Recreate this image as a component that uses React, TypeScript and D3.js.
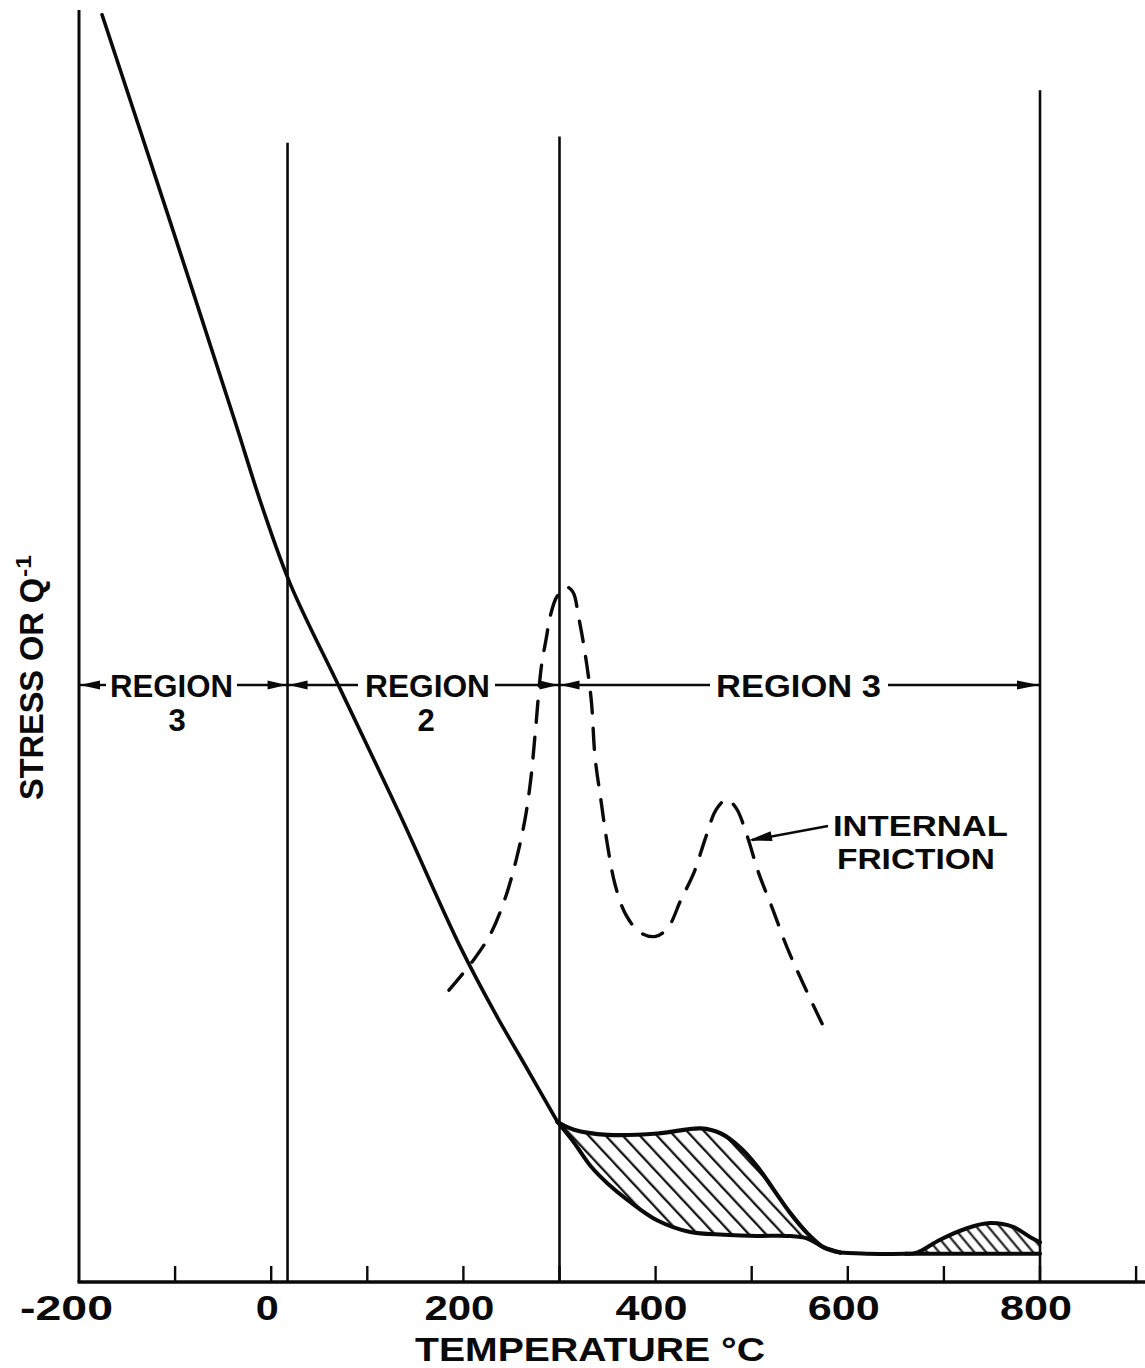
import React from 'react';
import * as d3 from 'd3';

// Temperature axis
const axisTicks = [-100, 0, 100, 200, 300, 400, 500, 600, 700, 800, 900];
const labelTemps = [-200, 0, 200, 400, 600, 800];
const labelTexts = ['-200', '0', '200', '400', '600', '800'];
const labelWidths = [93, 23, 70, 72, 72, 72];

// Region boundaries (°C) and the top of each boundary line (stress units)
const boundaryTemps = [17, 300, 800];
const boundaryTops = [89.0, 89.5, 93.1];

// Flow stress vs temperature (arbitrary stress units)
const stressT = [-176, -105, -38, -10, 20, 72, 134, 196, 233, 266, 298];
const stressV = [99.0, 82.8, 67.3, 60.7, 54.5, 46.3, 36.5, 26.3, 21.0, 16.7, 12.5];

// Above 300 °C: upper and lower branches of the stress band
const upperT = [298, 315, 350, 402, 447, 468, 488, 506, 523, 540, 558, 575, 592];
const upperV = [12.5, 11.9, 11.5, 11.6, 12.0, 11.6, 10.5, 9.0, 7.2, 5.4, 3.8, 2.7, 2.3];
const lowerT = [298, 315, 333, 350, 371, 402, 436, 471, 506, 537, 558, 575, 592];
const lowerV = [12.5, 10.9, 9.0, 7.7, 6.4, 4.8, 3.9, 3.7, 3.6, 3.6, 3.4, 2.7, 2.3];

// High-temperature plateau and the second hump
const plateauT = [592, 620, 660, 700, 750, 800];
const plateauV = [2.3, 2.2, 2.2, 2.2, 2.2, 2.2];
const humpT = [660, 672, 696, 724, 748, 772, 790, 800];
const humpV = [2.2, 2.3, 3.3, 4.2, 4.6, 4.3, 3.5, 3.1];

// Internal friction (dashed)
const frictionT = [185, 211, 229, 244, 255, 264, 270, 275, 281, 286, 291, 297, 307, 314, 320, 326, 333, 337, 343, 350, 358, 369, 384, 400, 413, 426, 440, 452, 463, 474, 484, 495, 507, 522, 537, 553, 575];
const frictionV = [22.8, 25.2, 27.3, 30.1, 33.0, 36.1, 39.2, 43.1, 48.0, 50.2, 52.2, 53.5, 54.3, 53.9, 51.9, 49.4, 45.5, 41.0, 37.7, 34.1, 31.0, 28.7, 27.3, 27.0, 27.7, 29.8, 32.0, 34.7, 36.9, 37.7, 37.0, 34.9, 32.0, 29.1, 26.1, 23.4, 19.9];

const W = 1145;
const H = 1368;
const FONT = '"Liberation Sans", Arial, sans-serif';

const x = d3.scaleLinear().domain([-200, 800]).range([79, 1040]);
const y = d3.scaleLinear().domain([0, 100]).range([1282, 2]);

const zip = (ts: number[], vs: number[]) => ts.map((t, i) => [t, vs[i]] as [number, number]);

const line = d3
  .line<[number, number]>()
  .x((d) => x(d[0]))
  .y((d) => y(d[1]))
  .curve(d3.curveCatmullRom.alpha(0.5));

const straight = d3
  .line<[number, number]>()
  .x((d) => x(d[0]))
  .y((d) => y(d[1]));

function closedBand(top: [number, number][], bottom: [number, number][], bottomSmooth: boolean) {
  const a = line(top) || '';
  const gen = bottomSmooth ? line : straight;
  const b = (gen([...bottom].reverse()) || '').replace(/^M/, 'L');
  return a + b + 'Z';
}

function arrowHead(tipX: number, tipY: number, dx: number, dy: number, len = 19, half = 4.5) {
  const n = Math.hypot(dx, dy);
  const ux = dx / n;
  const uy = dy / n;
  const bx = tipX - ux * len;
  const by = tipY - uy * len;
  const px = -uy * half;
  const py = ux * half;
  return `M${tipX},${tipY}L${bx + px},${by + py}L${bx - px},${by - py}Z`;
}

export default function App() {
  const stress = zip(stressT, stressV);
  const upper = zip(upperT, upperV);
  const lower = zip(lowerT, lowerV);
  const plateau = zip(plateauT, plateauV);
  const hump = zip(humpT, humpV);
  const friction = zip(frictionT, frictionV);
  const humpBase = zip([humpT[0], humpT[humpT.length - 1]], [plateauV[2], plateauV[plateauV.length - 1]]);

  const bandPath = closedBand(upper, lower, true);
  const humpPath = closedBand(hump, humpBase, false);

  const baseY = y(0);
  const arrowY = 685;
  const ink = '#0a0a0a';

  const textStyle = { fontFamily: FONT, fontWeight: 700, fill: ink } as const;

  return (
    <svg
      width={W}
      height={H}
      viewBox={`0 0 ${W} ${H}`}
      style={{ position: 'absolute', left: 0, top: 0, background: '#fff' }}
    >
      <defs>
        <pattern id="hatchWide" patternUnits="userSpaceOnUse" width={12.5} height={12.5} patternTransform="rotate(-43)">
          <line x1={6} y1={0} x2={6} y2={12.5} stroke={ink} strokeWidth={2.2} />
        </pattern>
        <pattern id="hatchNarrow" patternUnits="userSpaceOnUse" width={9} height={9} patternTransform="rotate(-40)">
          <line x1={4.5} y1={0} x2={4.5} y2={9} stroke={ink} strokeWidth={2} />
        </pattern>
      </defs>
      <rect width={W} height={H} fill="#fff" />

      {/* hatched bands */}
      <path d={bandPath} fill="url(#hatchWide)" stroke="none" />
      <path d={humpPath} fill="url(#hatchNarrow)" stroke="none" />

      {/* left axis and region boundaries */}
      <line x1={x(-200)} x2={x(-200)} y1={10} y2={baseY} stroke={ink} strokeWidth={3} />
      {boundaryTemps.map((t, i) => (
        <line key={t} x1={x(t)} x2={x(t)} y1={y(boundaryTops[i])} y2={baseY} stroke={ink} strokeWidth={2.6} />
      ))}

      {/* bottom axis */}
      <line x1={x(-200) - 1.5} x2={W} y1={baseY} y2={baseY} stroke={ink} strokeWidth={3.5} />
      {axisTicks.map((t) => (
        <line key={t} x1={x(t)} x2={x(t)} y1={baseY} y2={baseY - 16} stroke={ink} strokeWidth={2.4} />
      ))}
      {labelTemps.map((t, i) => (
        <text
          key={t}
          x={t < 0 ? x(t) + 34 : x(t) - 4}
          y={1320}
          textAnchor={t < 0 ? 'end' : 'middle'}
          fontSize={35}
          textLength={labelWidths[i]}
          lengthAdjust="spacingAndGlyphs"
          style={textStyle}
        >
          {labelTexts[i]}
        </text>
      ))}
      <text x={415} y={1361} fontSize={33} textLength={350} lengthAdjust="spacingAndGlyphs" style={textStyle}>
        TEMPERATURE °C
      </text>

      {/* vertical axis title */}
      <text transform="translate(43,800) rotate(-90)" fontSize={34} textLength={222} lengthAdjust="spacingAndGlyphs" style={textStyle}>
        STRESS OR Q
      </text>
      <text transform="translate(31,577) rotate(-90)" fontSize={22} textLength={22} lengthAdjust="spacingAndGlyphs" style={textStyle}>
        -1
      </text>

      {/* stress curve */}
      <path d={line(stress) || ''} fill="none" stroke={ink} strokeWidth={3.6} strokeLinejoin="round" strokeLinecap="round" />
      <path d={line(upper) || ''} fill="none" stroke={ink} strokeWidth={4.2} strokeLinecap="round" />
      <path d={line(lower) || ''} fill="none" stroke={ink} strokeWidth={4} strokeLinecap="round" />
      <path d={line(plateau) || ''} fill="none" stroke={ink} strokeWidth={4} strokeLinecap="round" />
      <path d={line(hump) || ''} fill="none" stroke={ink} strokeWidth={4} strokeLinecap="round" />

      {/* internal friction */}
      <path
        d={line(friction) || ''}
        fill="none"
        stroke={ink}
        strokeWidth={3.4}
        strokeDasharray="21 15"
        strokeLinecap="round"
      />

      {/* region arrows */}
      <g stroke={ink} strokeWidth={2.4}>
        <line x1={x(-200)} x2={106} y1={arrowY} y2={arrowY} />
        <line x1={237} x2={x(17)} y1={arrowY} y2={arrowY} />
        <line x1={x(17)} x2={358} y1={arrowY} y2={arrowY} />
        <line x1={495} x2={x(300)} y1={arrowY} y2={arrowY} />
        <line x1={x(300)} x2={710} y1={arrowY} y2={arrowY} />
        <line x1={888} x2={x(800)} y1={arrowY} y2={arrowY} />
        <line x1={828} x2={752} y1={826} y2={840} />
      </g>
      <g fill={ink}>
        <path d={arrowHead(x(-200) + 1, arrowY, -1, 0, 20)} />
        <path d={arrowHead(x(17) - 1, arrowY, 1, 0)} />
        <path d={arrowHead(x(17) + 1, arrowY, -1, 0)} />
        <path d={arrowHead(x(300) - 1, arrowY, 1, 0)} />
        <path d={arrowHead(x(300) + 1, arrowY, -1, 0)} />
        <path d={arrowHead(x(800) - 1, arrowY, 1, 0, 22)} />
        <path d={arrowHead(748, 840.5, -76, 14, 24, 5)} />
      </g>

      {/* region labels */}
      <text x={110} y={697} fontSize={31} textLength={123} lengthAdjust="spacingAndGlyphs" style={textStyle}>REGION</text>
      <text x={177} y={731} fontSize={31} textAnchor="middle" style={textStyle}>3</text>
      <text x={365} y={697} fontSize={31} textLength={125} lengthAdjust="spacingAndGlyphs" style={textStyle}>REGION</text>
      <text x={426} y={731} fontSize={31} textAnchor="middle" style={textStyle}>2</text>
      <text x={716} y={697} fontSize={31} textLength={165} lengthAdjust="spacingAndGlyphs" style={textStyle}>REGION 3</text>

      <text x={833} y={836} fontSize={30} textLength={175} lengthAdjust="spacingAndGlyphs" style={textStyle}>INTERNAL</text>
      <text x={837} y={869} fontSize={30} textLength={158} lengthAdjust="spacingAndGlyphs" style={textStyle}>FRICTION</text>
    </svg>
  );
}
